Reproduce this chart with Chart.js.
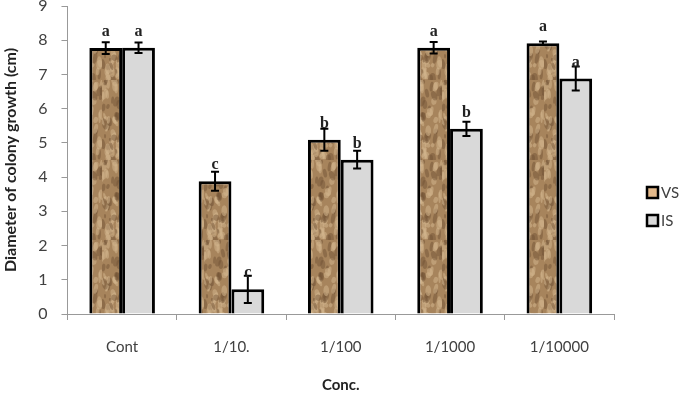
<!DOCTYPE html>
<html>
<head>
<meta charset="utf-8">
<script src="https://cdn.jsdelivr.net/npm/chart.js@4/dist/chart.umd.min.js"></script>
<style>
  html, body { margin: 0; padding: 0; background: #fff; }
  #wrap { width: 685px; height: 394px; position: relative; }
</style>
</head>
<body>
<div id="wrap"><canvas id="bar-chart"></canvas></div>
<script>
// data
var conc_labels = ['Cont', '1/10.', '1/100', '1/1000', '1/10000'];
var series_names = ['VS', 'IS'];
var vs_data = [7.77, 3.88, 5.09, 7.78, 7.91];
var is_data = [7.78, 0.72, 4.51, 5.41, 6.88];
var vs_err = [0.17, 0.28, 0.32, 0.17, 0.05];
var is_err = [0.15, 0.40, 0.26, 0.21, 0.35];
var vs_letters = ['a', 'c', 'b', 'a', 'a'];
var is_letters = ['a', 'c', 'b', 'b', 'a'];
var y_ticks = [0, 1, 2, 3, 4, 5, 6, 7, 8, 9];

// mottled wood-like texture for the VS bars
function makeTexture() {
    var c = document.createElement('canvas');
    c.width = 34; c.height = 80;
    var g = c.getContext('2d');
    g.fillStyle = '#a7845c';
    g.fillRect(0, 0, 34, 80);
    function h(n) { var s = Math.sin(n * 12.9898) * 43758.5453; return s - Math.floor(s); }
    for (var i = 0; i < 90; i++) {
        var x = h(i + 1) * 34, y = h(i + 101) * 80;
        var t = h(i + 201);
        g.fillStyle = t < 0.4 ? 'rgba(110,80,50,0.45)' : 'rgba(210,180,140,0.55)';
        g.beginPath();
        g.ellipse(x, y, 1 + h(i + 301) * 2, 2 + h(i + 401) * 4, (h(i + 501) - 0.5) * 0.8, 0, Math.PI * 2);
        g.fill();
    }
    return document.getElementById('bar-chart').getContext('2d').createPattern(c, 'repeat');
}

var errAndLetters = {
    id: 'errAndLetters',
    afterDatasetsDraw: function (chart) {
        var ctx = chart.ctx, ys = chart.scales.y;
        var errs = [vs_err, is_err], letters = [vs_letters, is_letters];
        ctx.save();
        chart.data.datasets.forEach(function (ds, di) {
            chart.getDatasetMeta(di).data.forEach(function (bar, i) {
                var v = ds.data[i], e = errs[di][i];
                var top = ys.getPixelForValue(v + e), bot = ys.getPixelForValue(v - e);
                ctx.strokeStyle = '#000';
                ctx.lineWidth = 2;
                ctx.beginPath();
                ctx.moveTo(bar.x, top); ctx.lineTo(bar.x, bot);
                ctx.moveTo(bar.x - 4, top); ctx.lineTo(bar.x + 4, top);
                ctx.moveTo(bar.x - 4, bot); ctx.lineTo(bar.x + 4, bot);
                ctx.stroke();
                ctx.fillStyle = '#222';
                ctx.font = 'bold 16px "Liberation Serif"';
                ctx.textAlign = 'center';
                ctx.textBaseline = 'alphabetic';
                ctx.fillText(letters[di][i], bar.x, ys.getPixelForValue(v) - 12);
            });
        });
        // legend
        var items = [{ fill: '#e3b98b', y: 193 }, { fill: '#d9d9d9', y: 221 }];
        items.forEach(function (it, k) {
            ctx.fillStyle = it.fill;
            ctx.fillRect(647, it.y - 6, 11, 11);
            ctx.strokeStyle = '#000';
            ctx.lineWidth = 2.5;
            ctx.strokeRect(647, it.y - 6, 11, 11);
            ctx.fillStyle = '#404040';
            ctx.font = '15px Lato';
            ctx.textAlign = 'left';
            ctx.textBaseline = 'middle';
            ctx.fillText(series_names[k], 661, it.y);
        });
        ctx.restore();
    }
};

var ctx = document.getElementById('bar-chart').getContext('2d');
var myChart = new Chart(ctx, {
    type: 'bar',
    data: {
        labels: conc_labels,
        datasets: [{
            label: series_names[0],
            data: vs_data,
            backgroundColor: makeTexture(),
            borderColor: '#000',
            borderWidth: 3,
            borderSkipped: 'bottom'
        }, {
            label: series_names[1],
            data: is_data,
            backgroundColor: '#d9d9d9',
            borderColor: '#000',
            borderWidth: 3,
            borderSkipped: 'bottom'
        }]
    },
    options: {
        responsive: true,
        maintainAspectRatio: false,
        animation: false,
        layout: { padding: { top: 6, right: 71, left: 1, bottom: 0 } },
        categoryPercentage: 0.6,
        barPercentage: 1,
        plugins: { legend: { display: false }, tooltip: { enabled: false } },
        scales: {
            x: {
                grid: { display: true, drawOnChartArea: false, offset: true, tickLength: 6, color: '#999' },
                border: { color: '#999', width: 1 },
                ticks: { color: '#404040', font: { family: 'Lato', size: 15 }, padding: 18 },
                title: { display: true, text: 'Conc.', color: '#222', font: { family: 'Lato', size: 15, weight: 'bold' }, padding: { top: 2, bottom: 0 } }
            },
            y: {
                min: 0, max: 9,
                afterBuildTicks: function (axis) { axis.ticks = y_ticks.map(function (v) { return { value: v }; }); },
                afterFit: function (axis) { axis.paddingTop = 0; axis.paddingBottom = 0; },
                grid: { display: true, drawOnChartArea: false, tickLength: 6, color: '#999' },
                border: { color: '#999', width: 1 },
                ticks: { color: '#404040', font: { family: 'Lato', size: 16 }, padding: 14 },
                title: { display: true, text: 'Diameter of colony growth (cm)', color: '#222', font: { family: 'Lato', size: 16, weight: 'bold' }, padding: { top: 0, bottom: 4 } }
            }
        }
    },
    plugins: [errAndLetters]
});
</script>
</body>
</html>
